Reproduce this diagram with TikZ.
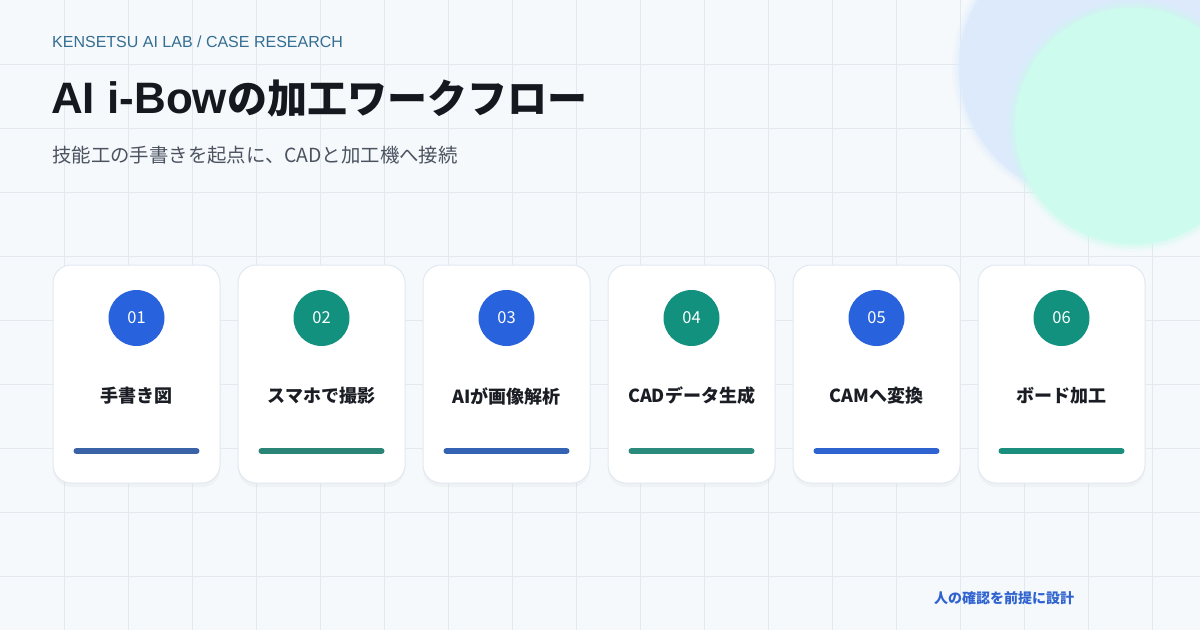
\documentclass[tikz,border=0pt]{standalone}
\usepackage{fontspec}
\setmainfont{Noto Sans CJK JP}
\newfontfamily\lat{Liberation Sans}
\usetikzlibrary{shadows}
\definecolor{bgc}{HTML}{F5F9FC}
\definecolor{gridc}{HTML}{E2E9EF}
\definecolor{blobblue}{HTML}{DCEAFB}
\definecolor{blobgreen}{HTML}{CDFBEE}
\definecolor{kicker}{HTML}{356E92}
\definecolor{titlec}{HTML}{15191F}
\definecolor{subc}{HTML}{4B5360}
\definecolor{cardline}{HTML}{E1E8F1}
\definecolor{numblue}{HTML}{2862DC}
\definecolor{numteal}{HTML}{12917F}
\definecolor{labc}{HTML}{1A1D23}
\definecolor{barA}{HTML}{3A62A6}
\definecolor{barB}{HTML}{2A8577}
\definecolor{barC}{HTML}{3563B4}
\definecolor{barD}{HTML}{2A8A7C}
\definecolor{barE}{HTML}{2F63CF}
\definecolor{barF}{HTML}{1A8F7E}
\definecolor{footc}{HTML}{2F63D0}
\begin{document}
\begin{tikzpicture}[x=1pt,y=-1pt,
  cardbox/.style={draw=cardline, line width=1pt, fill=white, rounded corners=18pt,
    minimum width=167pt, minimum height=218pt, inner sep=0pt,
    drop shadow={opacity=0.05, shadow xshift=0pt, shadow yshift=-4pt}},
  numdot/.style={circle, minimum size=56pt, inner sep=0pt, text=white,
    font=\fontsize{16.5}{16.5}\selectfont},
  steplabel/.style={text=labc, inner sep=0pt, font=\bfseries\fontsize{18}{18}\selectfont},
  barline/.style={line width=6pt, line cap=round},
  gridline/.style={gridc, line width=1pt}]
\fill[bgc] (0,0) rectangle (1200,630);
\useasboundingbox (0,0) rectangle (1200,630);
\begin{scope}
\clip (0,0) rectangle (1200,630);
\foreach \i in {1,...,18} \draw[gridline] (64*\i,0) -- (64*\i,630);
\foreach \j in {1,...,9} \draw[gridline] (0,64*\j) -- (1200,64*\j);
% soft blobs
\foreach \r/\o in {8/0.15,5/0.3,2/0.5} \fill[blobblue, opacity=\o] (1090,67) circle[radius=130+\r];
\fill[blobblue] (1090,67) circle[radius=130];
\foreach \r/\o in {8/0.15,5/0.3,2/0.5} \fill[blobgreen, opacity=\o] (1133,126) circle[radius=118+\r];
\fill[blobgreen] (1133,126) circle[radius=118];
\end{scope}
% header
\node[anchor=base west, inner sep=0pt, text=kicker, font=\lat\fontsize{16}{16}\selectfont] (kick) at (52,47) {KENSETSU AI LAB / CASE RESEARCH};
\node[anchor=base west, inner sep=0pt, text=titlec, font=\bfseries\fontsize{40}{40}\selectfont] (title) at (51,113) {{\lat\bfseries\fontsize{44}{44}\selectfont AI i-Bow}の加工ワークフロー};
\node[anchor=base west, inner sep=0pt, text=subc, font=\fontsize{19.4}{19.4}\selectfont] (sub) at (52,162) {技能工の手書きを起点に、CADと加工機へ接続};
% cards
\foreach \k/\cx/\nc/\bc/\num/\lab in {
  1/136.5/numblue/barA/01/手書き図,
  2/321.5/numteal/barB/02/スマホで撮影,
  3/506.5/numblue/barC/03/AIが画像解析,
  4/691.5/numteal/barD/04/CADデータ生成,
  5/876.5/numblue/barE/05/CAMへ変換,
  6/1061.5/numteal/barF/06/ボード加工}{
  \node[cardbox] (card\k) at (\cx,374) {};
  \node[numdot, fill=\nc] (num\k) at (\cx,318) {\num};
  \node[steplabel] (lab\k) at (\cx,396) {\lab};
  \draw[barline, \bc] (\cx-60,451) -- (\cx+60,451);
}
\node[text=footc, inner sep=0pt, font=\bfseries\fontsize{14}{14}\selectfont] (foot) at (1004,598) {人の確認を前提に設計};
\end{tikzpicture}
\end{document}
